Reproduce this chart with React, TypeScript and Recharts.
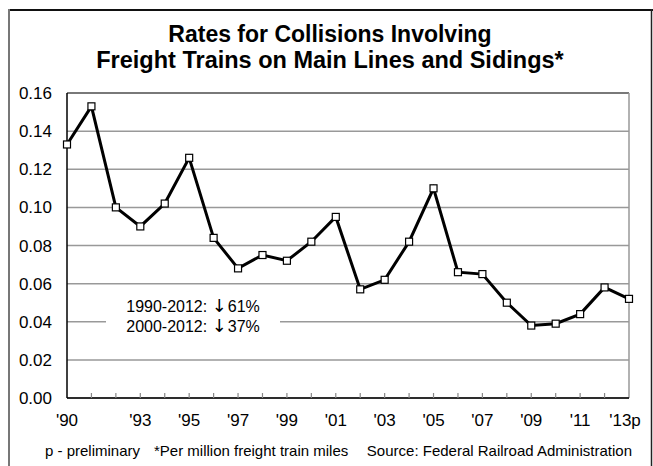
import React from "react";
import { LineChart, Line, XAxis, YAxis, CartesianGrid, ReferenceLine } from "recharts";

const years = [1990, 1991, 1992, 1993, 1994, 1995, 1996, 1997, 1998, 1999, 2000, 2001, 2002, 2003, 2004, 2005, 2006, 2007, 2008, 2009, 2010, 2011, 2012, 2013];
const rates = [0.133, 0.153, 0.100, 0.090, 0.102, 0.126, 0.084, 0.068, 0.075, 0.072, 0.082, 0.095, 0.057, 0.062, 0.082, 0.110, 0.066, 0.065, 0.050, 0.038, 0.039, 0.044, 0.058, 0.052];
const labeledYears = [1990, 1993, 1995, 1997, 1999, 2001, 2003, 2005, 2007, 2009, 2011, 2013];
const tickLabels = ["'90", "'93", "'95", "'97", "'99", "'01", "'03", "'05", "'07", "'09", "'11", "'13p"];
const yTicks = [0, 0.02, 0.04, 0.06, 0.08, 0.1, 0.12, 0.14, 0.16];
const titleLines = ["Rates for Collisions Involving", "Freight Trains on Main Lines and Sidings*"];
const notePeriods = ["1990-2012:", "2000-2012:"];
const noteChanges = ["61%", "37%"];
const footerParts = ["p - preliminary", "*Per million freight train miles", "Source: Federal Railroad Administration"];

const data = years.map((y, i) => ({ year: y, rate: rates[i] }));
const FONT = "'Liberation Sans', Arial, sans-serif";

const XTick = (props: any) => {
  const { x, y, payload } = props;
  const v = payload.value;
  const idx = labeledYears.indexOf(v);
  const first = v === years[0];
  const last = v === years[years.length - 1];
  return (
    <g>
      {!first && !last && <line x1={x} x2={x} y1={y} y2={y - 5} stroke="#888" strokeWidth={1.2} />}
      {idx >= 0 && (
        <text x={last ? x - 4 : x} y={y + 28} textAnchor="middle" fontSize={17} fontFamily={FONT} fill="#000">
          {tickLabels[idx]}
        </text>
      )}
    </g>
  );
};

const YTick = (props: any) => {
  const { x, y, payload } = props;
  return (
    <text x={x - 15} y={y} dy="0.36em" textAnchor="end" fontSize={17} fontFamily={FONT} fill="#000">
      {Number(payload.value).toFixed(2)}
    </text>
  );
};

const SquareDot = (props: any) => {
  const { cx, cy } = props;
  if (cx == null || cy == null) return null;
  return <rect x={cx - 3.5} y={cy - 3.5} width={7} height={7} fill="#fff" stroke="#000" strokeWidth={1.2} />;
};

export default function App() {
  return (
    <div style={{ position: "absolute", left: 0, top: 0, width: 653, height: 466, background: "#fff", overflow: "hidden" }}>
      <LineChart width={653} height={466} data={data} margin={{ top: 93, right: 24, bottom: 38, left: 7 }}>
        <CartesianGrid horizontal={true} vertical={false} stroke="#999" strokeWidth={1.5} />
        <XAxis
          dataKey="year"
          type="number"
          domain={[1990, 2013]}
          ticks={years}
          interval={0}
          height={30}
          tickSize={0}
          tickMargin={0}
          tickLine={false}
          axisLine={{ stroke: "#000", strokeWidth: 1.5 }}
          tick={<XTick />}
        />
        <YAxis
          type="number"
          domain={[0, 0.16]}
          ticks={yTicks}
          interval={0}
          width={60}
          tickSize={0}
          tickMargin={0}
          tickLine={false}
          axisLine={{ stroke: "#000", strokeWidth: 1.5 }}
          tick={<YTick />}
        />
        <ReferenceLine y={0.16} stroke="#666" strokeWidth={1.5} />
        <ReferenceLine x={2013} stroke="#999" strokeWidth={1.5} />
        <Line
          type="linear"
          dataKey="rate"
          stroke="#000"
          strokeWidth={3}
          dot={<SquareDot />}
          isAnimationActive={false}
        />
      </LineChart>
      <svg width={653} height={466} style={{ position: "absolute", left: 0, top: 0, pointerEvents: "none" }}>
        <line x1={9} y1={10} x2={653} y2={10} stroke="#111" strokeWidth={2} />
        <line x1={9} y1={9} x2={9} y2={466} stroke="#777" strokeWidth={2} />
        <line x1={651.5} y1={9} x2={651.5} y2={466} stroke="#222" strokeWidth={1.5} />
        <text x={330} y={42} textAnchor="middle" fontSize={23} fontWeight="bold" fontFamily={FONT} fill="#000">{titleLines[0]}</text>
        <text x={330} y={68} textAnchor="middle" fontSize={23.5} fontWeight="bold" fontFamily={FONT} fill="#000">{titleLines[1]}</text>
        <rect x={106} y={296} width={174} height={42} fill="#fff" />
        {notePeriods.map((p, i) => (
          <text key={p} x={193} y={312 + i * 20} textAnchor="middle" fontSize={16} fontFamily={FONT} fill="#000">
            {p + " "}
            <tspan fontSize={18} fontFamily="'DejaVu Sans', sans-serif">{"\u2193"}</tspan>
            <tspan dx={1}>{noteChanges[i]}</tspan>
          </text>
        ))}
        <text x={45} y={456} fontSize={15} fontFamily={FONT} fill="#000">{footerParts[0]}</text>
        <text x={154} y={456} fontSize={15} fontFamily={FONT} fill="#000">{footerParts[1]}</text>
        <text x={632} y={456} textAnchor="end" fontSize={15} fontFamily={FONT} fill="#000">{footerParts[2]}</text>
      </svg>
    </div>
  );
}
